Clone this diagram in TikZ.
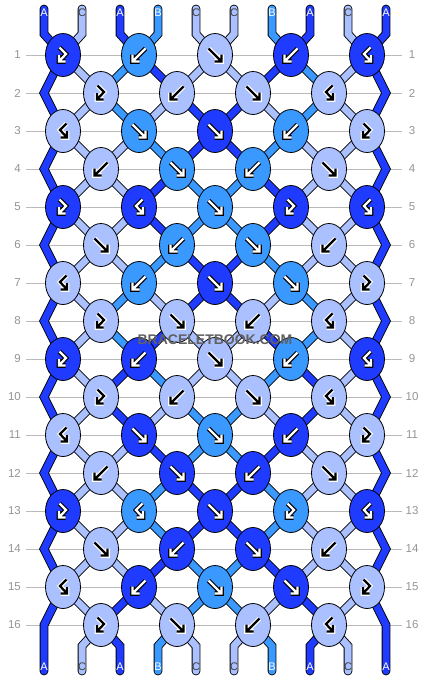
\documentclass[tikz,border=0pt]{standalone}
\usepackage{fontspec}
\setmainfont{Liberation Sans}
\usepackage{tikz}
\usetikzlibrary{shapes.geometric}
\pgfdeclarelayer{background}
\pgfsetlayers{background,main}

\definecolor{cA}{HTML}{1F3BFF}
\definecolor{cB}{HTML}{3A99FF}
\definecolor{cC}{HTML}{AAC0FF}
\colorlet{inkA}{white}\colorlet{inkB}{white}\colorlet{inkC}{black}
\colorlet{rimA}{black}\colorlet{rimB}{black}\colorlet{rimC}{white}
\colorlet{tagA}{white}\colorlet{tagB}{white}\colorlet{tagC}{black!75}

\newcommand\glyph[1]{%
  \draw[line width=4.6, line cap=square, draw=rim] #1;
  \draw[line width=2.3, line cap=square, draw=ink] #1;}

\tikzset{
  knot/.style={ellipse, draw=black, line width=0.8, fill=c#1, minimum width=35, minimum height=43, inner sep=0},
  strand/.style={draw=black, line width=0.9, double=c#1, double distance=7, line join=miter},
  tag/.style={text=tag#1, font=\fontsize{11}{11}\selectfont, inner sep=0},
  rowno/.style={text=black!42, font=\fontsize{11.5}{11.5}\selectfont, inner sep=0},
  gridline/.style={draw=black!27, line width=0.9},
  pics/kf/.style={code={\glyph{(-6.5,-6.5) -- (6.5,6.5) (-0.5,6.5) -- (6.5,6.5) -- (6.5,-0.5)}}},
  pics/kb/.style={code={\glyph{(6.5,-6.5) -- (-6.5,6.5) (0.5,6.5) -- (-6.5,6.5) -- (-6.5,-0.5)}}},
  pics/kfb/.style={code={\glyph{(-3.5,-7.5) -- (3,-1) -- (-4,6.5) (2.5,6.5) -- (-4,6.5) -- (-4,0)}}},
  pics/kbf/.style={code={\glyph{(3.5,-7.5) -- (-3,-1) -- (4,6.5) (-2.5,6.5) -- (4,6.5) -- (4,0)}}},
}

\begin{document}
\begin{tikzpicture}[x=1pt, y=-1pt]
\useasboundingbox (0,0) rectangle (430,680);

\foreach \r/\row in {
  1/{A/fb,B/b,C/f,A/b,A/bf},
  2/{C/fb,C/b,C/f,C/bf},
  3/{C/bf,B/f,A/f,B/b,C/fb},
  4/{C/b,B/f,B/b,C/f},
  5/{A/fb,A/bf,B/f,A/fb,A/bf},
  6/{C/f,B/b,B/f,C/b},
  7/{C/bf,B/b,A/f,B/f,C/fb},
  8/{C/fb,C/f,C/b,C/bf},
  9/{A/fb,A/b,C/f,B/b,A/bf},
  10/{C/fb,C/b,C/f,C/bf},
  11/{C/bf,A/f,B/f,A/b,C/fb},
  12/{C/b,A/f,A/b,C/f},
  13/{A/fb,B/bf,A/f,B/fb,A/bf},
  14/{C/f,A/b,A/f,C/b},
  15/{C/bf,A/b,B/f,A/f,C/fb},
  16/{C/fb,C/f,C/b,C/bf}}{
  \foreach \c/\t [count=\i] in \row {
    \pgfmathtruncatemacro\q{2*\i-mod(\r,2)}
    \node[knot=\c] (k\r-\q) at ({25+38*\q},{17+38*\r}) {};
    \colorlet{ink}{ink\c}\colorlet{rim}{rim\c}
    \pic at (k\r-\q) {k\t};
  }
}

\foreach \r in {2,4,...,16} {
  \coordinate (k\r-0) at (44,{17+38*\r});
  \coordinate (k\r-10) at (386,{17+38*\r});
}
\foreach \p in {1,...,10} {
  \coordinate (top\p) at ({6+38*\p},9);
  \coordinate (bot\p) at ({6+38*\p},671);
}
\foreach \r in {1,...,16} {
  \node[rowno, anchor=east] (left\r) at (21,{17+38*\r}) {\r};
  \node[rowno] (right\r) at (412,{17+38*\r}) {\r};
}

\begin{pgfonlayer}{background}
\foreach \r in {1,...,16}
  \draw[gridline] (26,{17+38*\r}) -- (402,{17+38*\r});

\foreach \r/\st in {
  1/{A,C,B,A,C,C,A,B,C,A},
  2/{A,C,B,C,A,A,C,B,C,A},
  3/{A,C,C,B,A,A,B,C,C,A},
  4/{A,C,C,A,B,B,A,C,C,A},
  5/{A,C,C,A,B,B,A,C,C,A},
  6/{A,C,C,B,A,A,B,C,C,A},
  7/{A,C,B,C,A,A,C,B,C,A},
  8/{A,C,B,A,C,C,A,B,C,A},
  9/{A,C,A,B,C,C,B,A,C,A},
  10/{A,C,A,C,B,B,C,A,C,A},
  11/{A,C,C,A,B,B,A,C,C,A},
  12/{A,C,C,B,A,A,B,C,C,A},
  13/{A,C,C,B,A,A,B,C,C,A},
  14/{A,C,C,A,B,B,A,C,C,A},
  15/{A,C,A,C,B,B,C,A,C,A}}{
  \pgfmathtruncatemacro\s{\r+1}
  \foreach \c [count=\p] in \st {
    \ifnum\p>1 \ifnum\p<10
      \pgfmathtruncatemacro\a{\p-mod(\p+\r,2)}
      \pgfmathtruncatemacro\b{\p-mod(\p+\s,2)}
      \draw[strand=\c] (k\r-\a.center) -- (k\s-\b.center);
    \fi\fi
  }
}

\foreach \c [count=\p] in {A,C,A,B,C,C,B,A,C,A} {
  \pgfmathtruncatemacro\q{\p-1+mod(\p,2)}
  \draw[strand=\c, line cap=round] (top\p) -- ++(0,25) -- (k1-\q.center);
  \ifnum\p>1 \ifnum\p<10
    \pgfmathtruncatemacro\q{\p-mod(\p,2)}
    \draw[strand=\c, line cap=round] (bot\p) -- ++(0,-25) -- (k16-\q.center);
  \fi\fi
}

\draw[strand=A, line cap=round] (k1-1.center)
  \foreach \r [evaluate=\r as \q using {int(mod(\r,2))}] in {2,...,16} { -- (k\r-\q.center) } -- (bot1);
\draw[strand=A, line cap=round] (k1-9.center)
  \foreach \r [evaluate=\r as \q using {int(10-mod(\r,2))}] in {2,...,16} { -- (k\r-\q.center) } -- (bot10);
\end{pgfonlayer}

\foreach \c [count=\p] in {A,C,A,B,C,C,B,A,C,A} {
  \node[tag=\c] (ttag\p) at ({6+38*\p},13) {\c};
  \node[tag=\c] (btag\p) at ({6+38*\p},667) {\c};
}

\node[font=\bfseries\fontsize{14}{14}\selectfont, text=black!62] (mark) at (215,340) {BRACELETBOOK.COM};
\end{tikzpicture}
\end{document}
